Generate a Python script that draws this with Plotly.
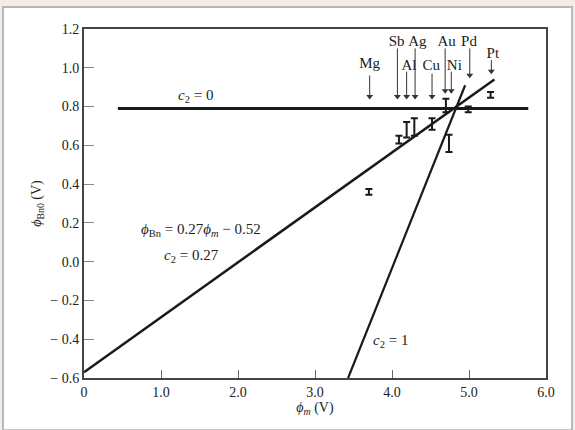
import plotly.graph_objects as go

# ---- data ----
x_ticks = [0, 1, 2, 3, 4, 5, 6]
x_tick_labels = ["0", "1.0", "2.0", "3.0", "4.0", "5.0", "6.0"]
y_ticks = [1.2, 1.0, 0.8, 0.6, 0.4, 0.2, 0.0, -0.2, -0.4, -0.6]
y_tick_labels = ["1.2", "1.0", "0.8", "0.6", "0.4", "0.2", "0.0", "− 0.2", "− 0.4", "− 0.6"]

# lines
c0_x = [0.44, 5.77]
c0_y = [0.79, 0.79]
fit_x = [0.0, 5.33]
fit_y = [-0.57, 0.94]
c1_x = [3.43, 4.95]
c1_y = [-0.6, 0.91]

# measured points with error bars
pt_metals = ["Mg", "Sb", "Al", "Ag", "Cu", "Au", "Ni", "Pd", "Pt"]
pt_x = [3.70, 4.09, 4.19, 4.29, 4.52, 4.70, 4.74, 4.99, 5.28]
pt_y = [0.36, 0.63, 0.68, 0.695, 0.71, 0.805, 0.61, 0.785, 0.86]
pt_err = [0.015, 0.02, 0.04, 0.045, 0.03, 0.035, 0.045, 0.015, 0.015]

# metal work-function arrows and labels
metals = ["Mg", "Sb", "Al", "Ag", "Cu", "Au", "Ni", "Pd", "Pt"]
metal_x = [3.71, 4.07, 4.19, 4.30, 4.52, 4.69, 4.77, 5.01, 5.29]
arrow_tip_y = [0.84, 0.84, 0.84, 0.84, 0.84, 0.87, 0.87, 0.95, 0.97]
arrow_tail_y = [0.96, 1.10, 0.98, 1.10, 0.97, 1.10, 0.98, 1.10, 1.04]
label_x = [3.71, 4.06, 4.22, 4.33, 4.51, 4.71, 4.81, 5.00, 5.31]
label_y = [1.02, 1.13, 1.01, 1.13, 1.01, 1.13, 1.01, 1.13, 1.07]

SERIF = "Liberation Serif"
INK = "#1a1a1a"
TXT = "#222"

fig = go.Figure()

fig.add_trace(go.Scatter(x=c0_x, y=c0_y, mode="lines",
                         line=dict(color=INK, width=3), showlegend=False))
fig.add_trace(go.Scatter(x=fit_x, y=fit_y, mode="lines",
                         line=dict(color=INK, width=2.5), showlegend=False))
fig.add_trace(go.Scatter(x=c1_x, y=c1_y, mode="lines",
                         line=dict(color=INK, width=2.2), showlegend=False))
fig.add_trace(go.Scatter(x=pt_x, y=pt_y, mode="markers",
                         marker=dict(size=1, color=INK),
                         error_y=dict(type="data", array=pt_err, visible=True,
                                      color=INK, thickness=2, width=3.5),
                         showlegend=False))

# arrow stems
stem_x, stem_y = [], []
for xm, tip, tail in zip(metal_x, arrow_tip_y, arrow_tail_y):
    stem_x += [xm, xm, None]
    stem_y += [tail, tip + 0.015, None]
fig.add_trace(go.Scatter(x=stem_x, y=stem_y, mode="lines",
                         line=dict(color="#333", width=1), showlegend=False,
                         hoverinfo="skip"))
# arrow heads
fig.add_trace(go.Scatter(x=metal_x, y=[t + 0.012 for t in arrow_tip_y],
                         mode="markers",
                         marker=dict(symbol="triangle-down", size=6, color="#333",
                                     line=dict(width=0)),
                         showlegend=False, hoverinfo="skip"))
# metal labels
fig.add_trace(go.Scatter(x=label_x, y=label_y, mode="text", text=metals,
                         textposition="middle center",
                         textfont=dict(family=SERIF, size=15, color=TXT),
                         showlegend=False, hoverinfo="skip"))

annotations = [
    dict(x=1.45, y=0.855, xref="x", yref="y", showarrow=False,
         text="<i>c</i><sub>2</sub> = 0", font=dict(family=SERIF, size=15, color=TXT)),
    dict(x=1.52, y=0.165, xref="x", yref="y", showarrow=False,
         text="<i>ϕ</i><sub>Bn</sub> = 0.27<i>ϕ</i><sub><i>m</i></sub> − 0.52",
         font=dict(family=SERIF, size=15, color=TXT)),
    dict(x=1.40, y=0.03, xref="x", yref="y", showarrow=False,
         text="<i>c</i><sub>2</sub> = 0.27", font=dict(family=SERIF, size=15, color=TXT)),
    dict(x=3.98, y=-0.41, xref="x", yref="y", showarrow=False,
         text="<i>c</i><sub>2</sub> = 1", font=dict(family=SERIF, size=15, color=TXT)),
]

fig.update_layout(
    width=575, height=430,
    margin=dict(l=84, r=29, t=29, b=52),
    paper_bgcolor="#f7ebe6",
    plot_bgcolor="rgba(0,0,0,0)",
    showlegend=False,
    annotations=annotations,
    shapes=[dict(type="rect", xref="paper", yref="paper",
                 x0=-0.1753, x1=1.0563, y0=-0.15, y1=1.063,
                 fillcolor="white", line=dict(color="#b8b8b8", width=2),
                 layer="below")],
    font=dict(family=SERIF, size=14, color=TXT),
)

fig.update_xaxes(
    range=[0, 6], tickvals=x_ticks, ticktext=x_tick_labels,
    ticks="inside", ticklen=8, tickwidth=1.2, tickcolor="#666",
    showgrid=False, zeroline=False,
    showline=True, linecolor="#444", linewidth=2, mirror=True,
    tickfont=dict(family=SERIF, size=14, color=TXT),
    title=dict(text="<i>ϕ</i><sub><i>m</i></sub> (V)", standoff=3,
               font=dict(family=SERIF, size=14, color=TXT)),
)
fig.update_yaxes(
    range=[-0.6, 1.2], tickvals=y_ticks, ticktext=y_tick_labels,
    ticks="inside", ticklen=10, tickwidth=1.2, tickcolor="#888",
    showgrid=False, zeroline=False,
    showline=True, linecolor="#444", linewidth=2, mirror=True,
    tickfont=dict(family=SERIF, size=14, color=TXT),
    title=dict(text="<i>ϕ</i><sub>Bn0</sub> (V)", standoff=5,
               font=dict(family=SERIF, size=14, color=TXT)),
)

fig.write_html("out.html")
